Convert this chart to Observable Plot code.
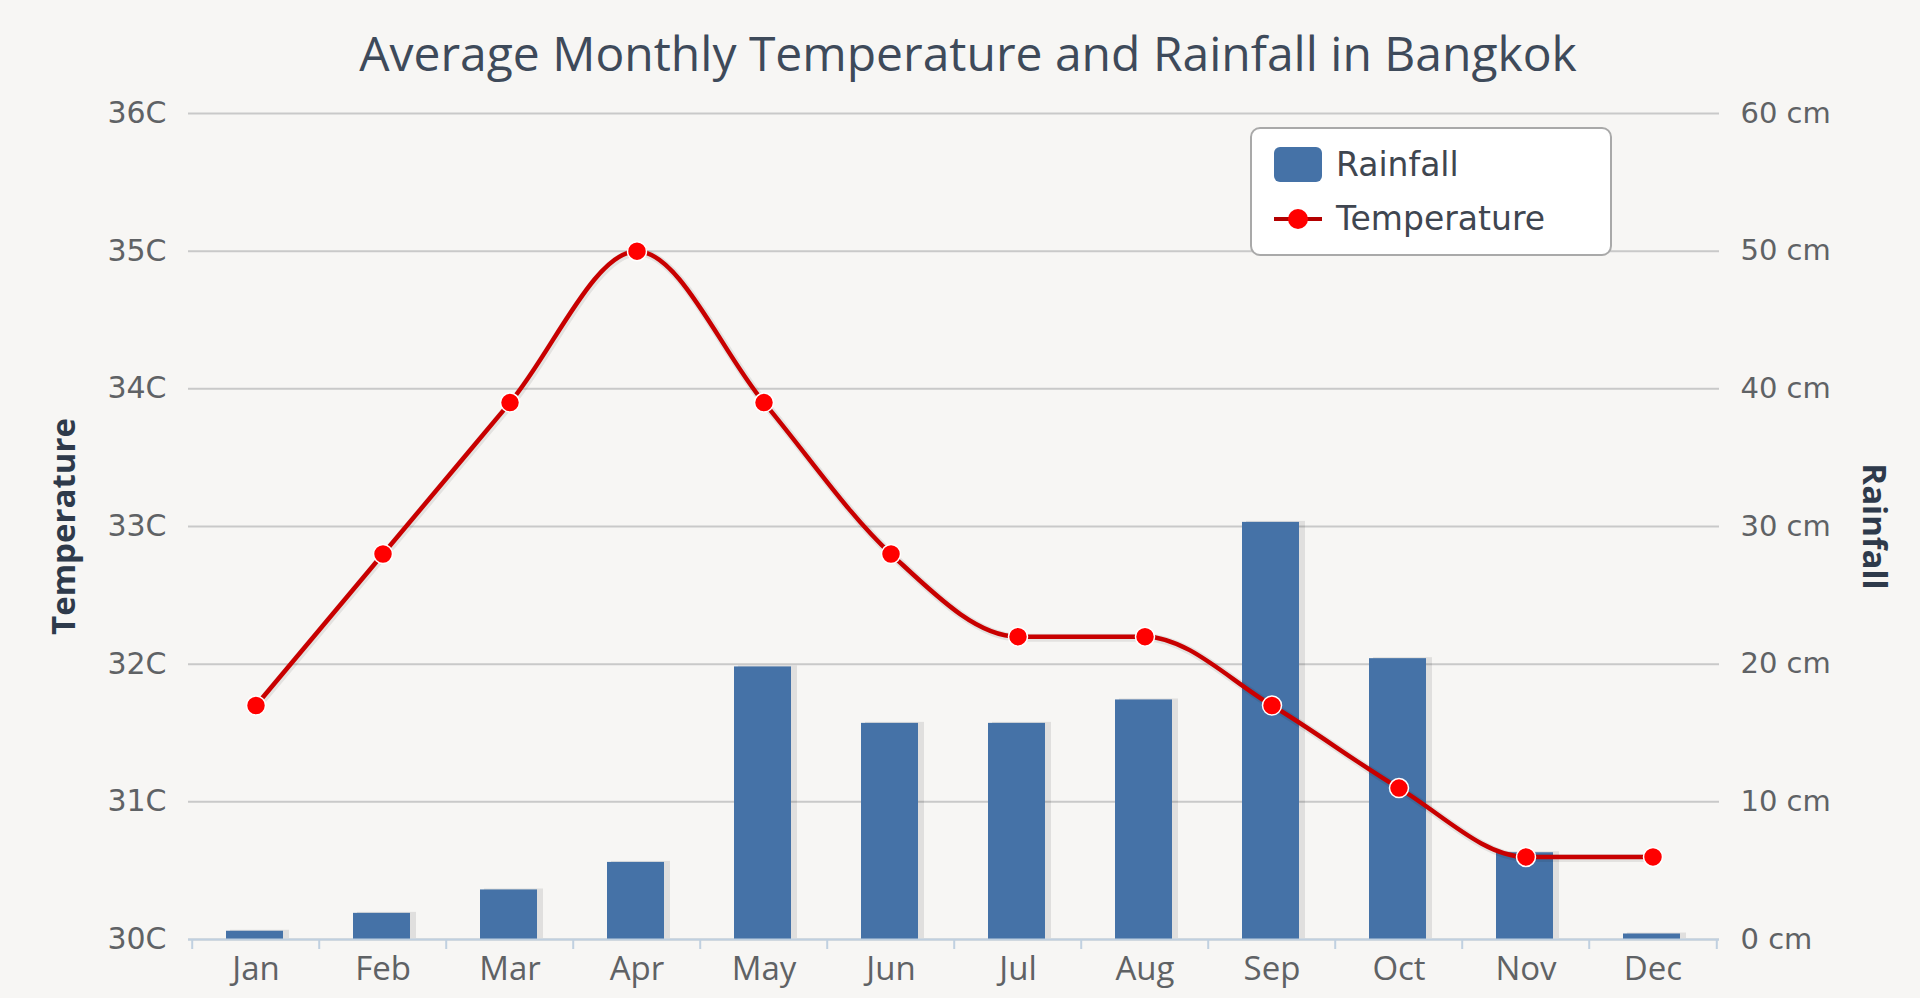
<!DOCTYPE html>
<html>
<head>
<meta charset="utf-8">
<script src="https://cdn.jsdelivr.net/npm/d3@7"></script>
<script src="https://cdn.jsdelivr.net/npm/@observablehq/plot@0.6"></script>
<style>
  html, body { margin: 0; padding: 0; background: #f7f6f4; }
  #wrap { position: relative; width: 1920px; height: 998px; overflow: hidden; }
  #title { position: absolute; left: 0; width: 1936px; top: 21px; text-align: center;
           font-family: "Open Sans", sans-serif; font-size: 48px; color: #3e4a5a; line-height: 64px; }
  #chart { position: absolute; left: 0; top: 90px; }
  #legend { position: absolute; left: 1250px; top: 127px; width: 358px; height: 125px;
            background: #ffffff; border: 2px solid #a9a9a9; border-radius: 10px; }
  .item { position: absolute; left: 84px; font-family: "DejaVu Sans", sans-serif; font-size: 33px; color: #3f4650; line-height: 40px; }
  .sym { position: absolute; left: 21px; }
</style>
</head>
<body>
<div id="wrap">
  <div id="title">Average Monthly Temperature and Rainfall in Bangkok</div>
  <div id="chart"></div>
  <div id="legend">
    <svg class="sym" style="top:17px" width="50" height="38"><rect x="1" y="1" width="48" height="35" rx="6" fill="#4572a7"/></svg>
    <div class="item" style="top:16px">Rainfall</div>
    <svg class="sym" style="top:70px" width="50" height="40"><line x1="1" x2="49" y1="20" y2="20" stroke="#b30000" stroke-width="4"/><circle cx="25" cy="20" r="10" fill="#ff0000"/></svg>
    <div class="item" style="top:70px">Temperature</div>
  </div>
</div>
<script>
const months = ["Jan","Feb","Mar","Apr","May","Jun","Jul","Aug","Sep","Oct","Nov","Dec"];
const temperature = [31.7, 32.8, 33.9, 35.0, 33.9, 32.8, 32.2, 32.2, 31.7, 31.1, 30.6, 30.6];
const rainfall = [0.6, 1.9, 3.6, 5.6, 19.8, 15.7, 15.7, 17.4, 30.3, 20.4, 6.3, 0.4];
const tempTicks = [30, 31, 32, 33, 34, 35, 36];
const rainTicks = [0, 10, 20, 30, 40, 50, 60];

const data = months.map((m, i) => ({month: m, temp: temperature[i], rain: rainfall[i]}));
// rainfall axis (0–60 cm) shares the frame with temperature axis (30–36 C)
const rainToTemp = r => 30 + r / 10;

const W = 1920, H = 908, ML = 188, MR = 201, MT = 23, MB = 59;
const step = (W - ML - MR) / months.length;
const barInset = 35;

const chart = Plot.plot({
  width: W, height: H,
  marginLeft: ML, marginRight: MR, marginTop: MT, marginBottom: MB,
  style: {background: "transparent", overflow: "visible"},
  x: {type: "band", domain: months, padding: 0, axis: null},
  y: {domain: [30, 36], axis: null},
  marks: [
    Plot.ruleY(tempTicks, {stroke: "#c9c9c9", strokeWidth: 2}),
    Plot.barY(data, {x: "month", y1: 30, y2: d => rainToTemp(d.rain), insetLeft: barInset + 3, insetRight: barInset - 5, fill: "#000", fillOpacity: 0.09, dy: -1}),
    Plot.barY(data, {x: "month", y1: 30, y2: d => rainToTemp(d.rain), insetLeft: barInset - 1, insetRight: barInset + 1, fill: "#4572a7"}),
    Plot.ruleY([30], {stroke: "#c0d0e0", strokeWidth: 2}),
    Plot.ruleX(months, {x: d => d, dx: -step / 2, y1: 30, y2: 30, insetBottom: -10, stroke: "#c0d0e0", strokeWidth: 2}),
    Plot.ruleX(["Dec"], {x: d => d, dx: step / 2, y1: 30, y2: 30, insetBottom: -10, stroke: "#c0d0e0", strokeWidth: 2}),
    Plot.lineY(data, {x: "month", y: "temp", curve: "monotone-x", stroke: "#000", strokeOpacity: 0.08, strokeWidth: 8, dx: 1, dy: 1}),
    Plot.lineY(data, {x: "month", y: "temp", curve: "monotone-x", stroke: "#c80000", strokeWidth: 4.5}),
    Plot.dot(data, {x: "month", y: "temp", r: 9.5, fill: "#ff0000", stroke: "#ffffff", strokeWidth: 1.5}),
    Plot.axisY({ticks: tempTicks, tickFormat: d => d + "C", tickSize: 0, tickPadding: 22, label: null,
      fontSize: 30, fontFamily: "DejaVu Sans", fill: "#5f6265"}),
    Plot.axisY({anchor: "right", ticks: rainTicks.map(rainToTemp), tickFormat: (d, i) => rainTicks[i] + " cm",
      tickSize: 0, tickPadding: 21, label: null, fontSize: 29, fontFamily: "DejaVu Sans", fill: "#5f6265"}),
    Plot.axisX({tickSize: 0, tickPadding: 17, label: null, fontSize: 33, fontFamily: "Open Sans", fill: "#5f6265"}),
    Plot.text(["Temperature"], {frameAnchor: "left", textAnchor: "middle", dx: -124, rotate: -90, fontSize: 33, fontWeight: "bold",
      fontFamily: "Open Sans", fill: "#2e3a4b"}),
    Plot.text(["Rainfall"], {frameAnchor: "right", textAnchor: "middle", dx: 154, rotate: 90, fontSize: 33, fontWeight: "bold",
      fontFamily: "Open Sans", fill: "#2e3a4b"})
  ]
});
document.getElementById("chart").appendChild(chart);
</script>
</body>
</html>
